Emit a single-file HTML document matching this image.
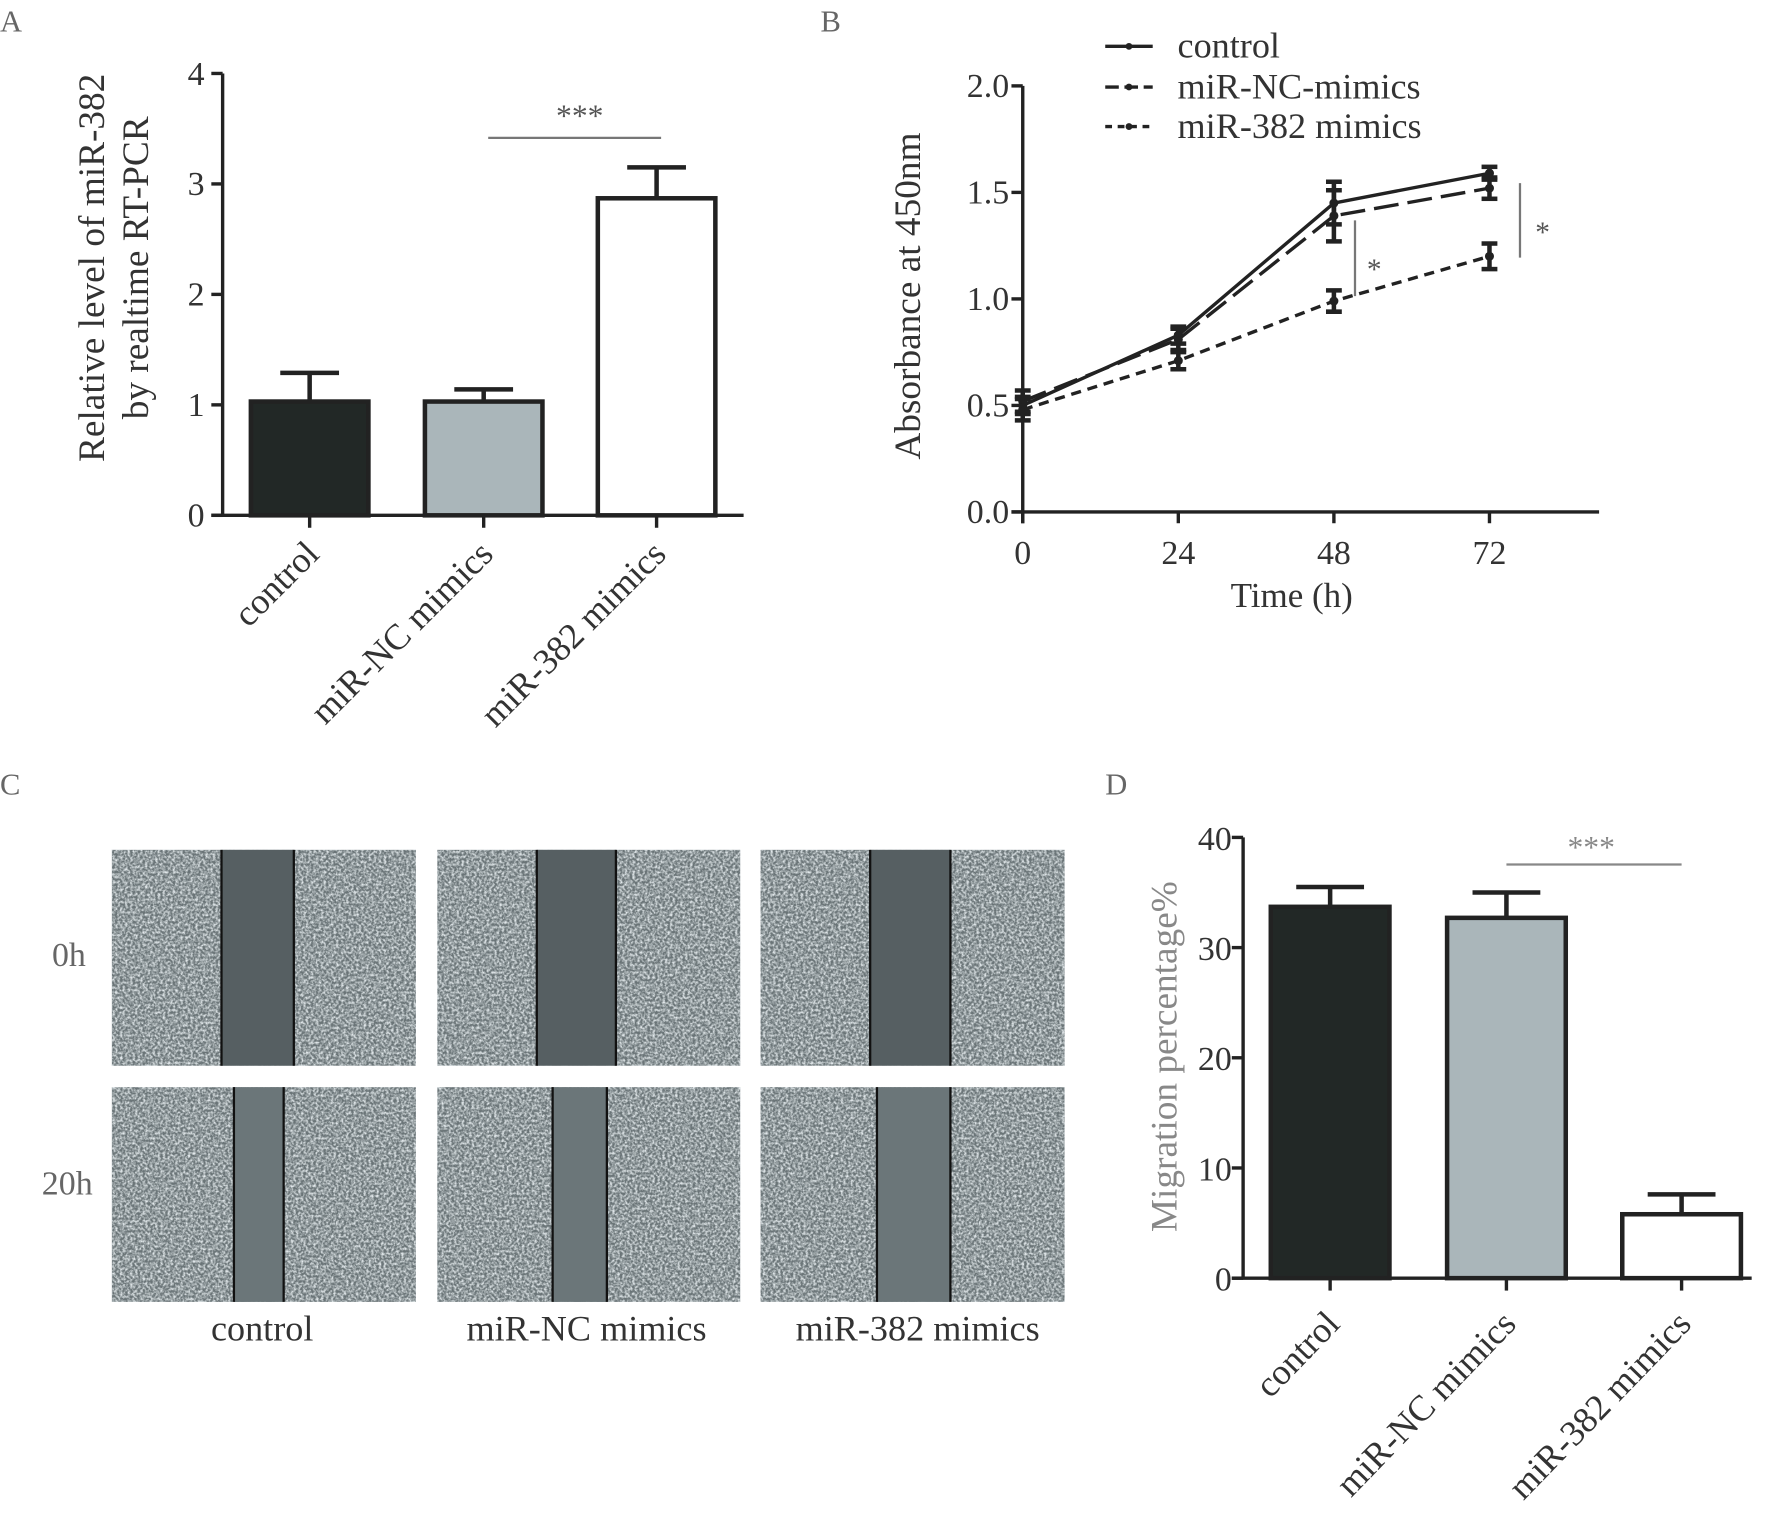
<!DOCTYPE html>
<html><head><meta charset="utf-8"><style>
html,body{margin:0;padding:0;background:#fff}
svg{display:block;font-family:"Liberation Serif",serif}
</style></head><body>
<svg id="fig" width="1772" height="1520" viewBox="0 0 1568 1345" preserveAspectRatio="none" xmlns="http://www.w3.org/2000/svg">
<defs>
<filter id="noise" x="0" y="0" width="100%" height="100%">
<feTurbulence type="fractalNoise" baseFrequency="0.45" numOctaves="3" seed="3" result="t"/>
<feColorMatrix type="matrix" values="0 0 0 0 0.75  0 0 0 0 0.8  0 0 0 0 0.82  0 0 0 2.2 -0.75"/>
</filter>
</defs>
<g id="root"></g>
</svg>
<script>
// Panel A data
const aCats = ["control","miR-NC mimics","miR-382 mimics"];
const aVals = [1.03, 1.03, 2.87];
const aErr = [0.26, 0.11, 0.28];
const aTicks = [0,1,2,3,4];
// Panel B data
const bTimes = [0,24,48,72];
const bTickLabels = ["0","24","48","72"];
const bYTicks = ["0.0","0.5","1.0","1.5","2.0"];
const bSeriesNames = ["control","miR-NC-mimics","miR-382 mimics"];
const bControl = [0.50, 0.83, 1.45, 1.59];
const bNC = [0.52, 0.81, 1.39, 1.52];
const b382 = [0.48, 0.71, 0.99, 1.20];
const bControlErr = [0.04, 0.04, 0.10, 0.03];
const bNCErr = [0.05, 0.05, 0.12, 0.05];
const b382Err = [0.05, 0.04, 0.05, 0.06];
// Panel D data
const dCats = ["control","miR-NC mimics","miR-382 mimics"];
const dVals = [33.7, 32.7, 5.8];
const dErr = [1.8, 2.3, 1.8];
const dTicks = [0,10,20,30,40];

const NS="http://www.w3.org/2000/svg";
const root=document.getElementById('root');
function mk(tag,attrs,parent,text){const e=document.createElementNS(NS,tag);for(const k in attrs)e.setAttribute(k,attrs[k]);if(text!==undefined)e.textContent=text;(parent||root).appendChild(e);return e;}
const fills=["#222826","#aab6ba","#ffffff"];

// panel letters
[["A",10,28],["B",736,28],["C",10,703],["D",988,703]].forEach(l=>{
 const t=mk('text',{x:l[1]-10,y:l[2],'font-size':27,fill:'#666'},root,l[0]);
 
 
});

// ---------- Panel A ----------
(function(){
 const g=mk('g',{});
 
 
 const x0=197,x1=658,yTop=65,yBot=456,ymax=4;
 const y=v=>yBot-(v/ymax)*(yBot-yTop);
 const cx=[274,428,581], bw=104;
 aVals.forEach((v,i)=>{
  const eb=mk('g',{},g);
  
  
  mk('line',{x1:cx[i],x2:cx[i],y1:y(v),y2:y(v+aErr[i]),stroke:'#222',  'stroke-width':4},eb);
  mk('line',{x1:cx[i]-26,x2:cx[i]+26,y1:y(v+aErr[i]),y2:y(v+aErr[i]),stroke:'#222','stroke-width':4},eb);
  const r=mk('rect',{x:cx[i]-bw/2,y:y(v),width:bw,height:yBot-y(v),fill:fills[i],stroke:'#222','stroke-width':4},g);
  
  
  mk('line',{x1:cx[i],x2:cx[i],y1:yBot,y2:yBot+11,stroke:'#222','stroke-width':3},g);
  const t=mk('text',{x:0,y:0,'font-size':32,fill:'#333','text-anchor':'end',transform:`translate(${cx[i]+10},${yBot+36}) rotate(-45)`},g,aCats[i]);
  
  
 });
 mk('line',{x1:x0,x2:x0,y1:yTop,y2:yBot+1,stroke:'#222','stroke-width':3},g);
 mk('line',{x1:x0-10,x2:x1,y1:yBot,y2:yBot,stroke:'#222','stroke-width':3},g);
 aTicks.forEach(v=>{
  mk('line',{x1:x0-10,x2:x0,y1:y(v),y2:y(v),stroke:'#222','stroke-width':3},g);
  const t=mk('text',{x:x0-16,y:y(v)+10,'font-size':30,fill:'#333','text-anchor':'end'},g,String(v));
  
  
 });
 const yt=mk('text',{'font-size':33,fill:'#333','text-anchor':'middle',transform:'translate(92,237) rotate(-90)'},g,'Relative level of miR-382');
 
 
 const yt2=mk('text',{'font-size':33,fill:'#333','text-anchor':'middle',transform:'translate(131,237) rotate(-90)'},g,'by realtime RT-PCR');
 
 
 mk('line',{x1:432,x2:585,y1:122,y2:122,stroke:'#777','stroke-width':2},g);
 const s=mk('text',{x:513,y:112,'font-size':28,fill:'#555','text-anchor':'middle'},g,'***');
 
 
})();

// ---------- Panel B ----------
(function(){
 const g=mk('g',{});
 
 
 const x0=905,x1=1415,yTop=76,yBot=453;
 const x=t=>x0+t*(1318-905)/72;
 const y=v=>yBot-(v/2)*(yBot-yTop);
 const series=[bControl,bNC,b382], errs=[bControlErr,bNCErr,b382Err];
 const dashes=['none','22 8','9 6'];
 series.forEach((s,si)=>{
  const sg=mk('g',{},g);
  
  
  mk('polyline',{points:s.map((v,i)=>x(bTimes[i])+','+y(v)).join(' '),fill:'none',stroke:'#222','stroke-width':3,'stroke-dasharray':dashes[si]},sg);
  s.forEach((v,i)=>{
   const px=x(bTimes[i]),e=errs[si][i];
   mk('line',{x1:px,x2:px,y1:y(v-e),y2:y(v+e),stroke:'#222','stroke-width':4},sg);
   mk('line',{x1:px-7,x2:px+7,y1:y(v-e),y2:y(v-e),stroke:'#222','stroke-width':4},sg);
   mk('line',{x1:px-7,x2:px+7,y1:y(v+e),y2:y(v+e),stroke:'#222','stroke-width':4},sg);
   mk('circle',{cx:px,cy:y(v),r:4,fill:'#222'},sg);
  });
 });
 mk('line',{x1:x0,x2:x0,y1:yTop,y2:yBot+10,stroke:'#222','stroke-width':3},g);
 mk('line',{x1:x0-10,x2:x1,y1:yBot,y2:yBot,stroke:'#222','stroke-width':3},g);
 bYTicks.forEach((l,i)=>{
  const v=parseFloat(l);
  mk('line',{x1:x0-10,x2:x0,y1:y(v),y2:y(v),stroke:'#222','stroke-width':3},g);
  const t=mk('text',{x:x0-12,y:y(v)+10,'font-size':30,fill:'#333','text-anchor':'end'},g,l);
  
  
 });
 bTimes.forEach((tv,i)=>{
  mk('line',{x1:x(tv),x2:x(tv),y1:yBot,y2:yBot+10,stroke:'#222','stroke-width':3},g);
  const t=mk('text',{x:x(tv),y:yBot+46,'font-size':30,fill:'#333','text-anchor':'middle'},g,bTickLabels[i]);
  
  
 });
 const xt=mk('text',{x:1143,y:537,'font-size':31,fill:'#333','text-anchor':'middle'},g,'Time (h)');
 
 
 const yt=mk('text',{'font-size':33,fill:'#333','text-anchor':'middle',transform:'translate(814,262) rotate(-90)'},g,'Absorbance at 450nm');
 
 
 const lg=mk('g',{},g);
 
 
 [41,77,112].forEach((ly,i)=>{
  const le=mk('g',{},lg);
  
  
  mk('line',{x1:978,x2:1020,y1:ly,y2:ly,stroke:'#222','stroke-width':3,'stroke-dasharray':i==0?'none':(i==1?'12 5':'6 5')},le);
  mk('circle',{cx:999,cy:ly,r:3,fill:'#222'},le);
  mk('text',{x:1042,y:ly+10,'font-size':32,fill:'#333'},le,bSeriesNames[i]);
 });
 mk('line',{x1:1199,x2:1199,y1:195,y2:262,stroke:'#777','stroke-width':2},g);
 mk('text',{x:1216,y:247,'font-size':26,fill:'#555','text-anchor':'middle'},g,'*');
 mk('line',{x1:1345,x2:1345,y1:162,y2:228,stroke:'#777','stroke-width':2},g);
 mk('text',{x:1365,y:214,'font-size':26,fill:'#555','text-anchor':'middle'},g,'*');
})();

// ---------- Panel C ----------
(function(){
 const g=mk('g',{});
 
 
 const cols=[[99,368],[387,655],[673,942]], rows=[[752,943],[962,1152]];
 const gaps=[[[196,260],[475,545],[770,841]],[[207,251],[489,537],[776,841]]];
 const names=["control","miR-NC mimics","miR-382 mimics"];
 rows.forEach((r,ri)=>cols.forEach((c,ci)=>{
  const ig=mk('g',{},g);
  
  
  mk('rect',{x:c[0],y:r[0],width:c[1]-c[0],height:r[1]-r[0],fill:'#6a7477'},ig);
  mk('rect',{x:c[0],y:r[0],width:c[1]-c[0],height:r[1]-r[0],fill:'#fff',filter:'url(#noise)'},ig);
  const gp=gaps[ri][ci];
  mk('rect',{x:gp[0],y:r[0],width:gp[1]-gp[0],height:r[1]-r[0],fill:ri?'#6b7679':'#565f62'},ig);
  mk('line',{x1:gp[0],x2:gp[0],y1:r[0],y2:r[1],stroke:'#111','stroke-width':2},ig);
  mk('line',{x1:gp[1],x2:gp[1],y1:r[0],y2:r[1],stroke:'#111','stroke-width':2},ig);
 }));
 const t0=mk('text',{x:76,y:855,'font-size':30,fill:'#666','text-anchor':'end'},g,'0h');
 
 
 const t1=mk('text',{x:82,y:1057,'font-size':30,fill:'#666','text-anchor':'end'},g,'20h');
 
 
 names.forEach((n,i)=>{
  const t=mk('text',{x:[232,519,812][i],y:1186,'font-size':32,fill:'#333','text-anchor':'middle'},g,n);
  
  
 });
})();

// ---------- Panel D ----------
(function(){
 const g=mk('g',{});
 
 
 const x0=1100,x1=1550,yTop=741,yBot=1131,ymax=40;
 const y=v=>yBot-(v/ymax)*(yBot-yTop);
 const cx=[1177,1333,1488], bw=105;
 dVals.forEach((v,i)=>{
  const eb=mk('g',{},g);
  
  
  mk('line',{x1:cx[i],x2:cx[i],y1:y(v),y2:y(v+dErr[i]),stroke:'#222','stroke-width':4},eb);
  mk('line',{x1:cx[i]-30,x2:cx[i]+30,y1:y(v+dErr[i]),y2:y(v+dErr[i]),stroke:'#222','stroke-width':4},eb);
  const r=mk('rect',{x:cx[i]-bw/2,y:y(v),width:bw,height:yBot-y(v),fill:fills[i],stroke:'#222','stroke-width':4},g);
  
  
  mk('line',{x1:cx[i],x2:cx[i],y1:yBot,y2:yBot+11,stroke:'#222','stroke-width':3},g);
  const t=mk('text',{'font-size':32,fill:'#333','text-anchor':'end',transform:`translate(${cx[i]+10},${yBot+42}) rotate(-46)`},g,dCats[i]);
  
  
 });
 mk('line',{x1:x0,x2:x0,y1:yTop,y2:yBot+1,stroke:'#222','stroke-width':3},g);
 mk('line',{x1:x0-10,x2:x1,y1:yBot,y2:yBot,stroke:'#222','stroke-width':3},g);
 dTicks.forEach(v=>{
  mk('line',{x1:x0-10,x2:x0,y1:y(v),y2:y(v),stroke:'#222','stroke-width':3},g);
  const t=mk('text',{x:x0-10,y:y(v)+11,'font-size':30,fill:'#333','text-anchor':'end'},g,String(v));
  
  
 });
 const yt=mk('text',{'font-size':33,fill:'#888','text-anchor':'middle',transform:'translate(1041,935) rotate(-90)'},g,'Migration percentage%');
 
 
 mk('line',{x1:1333,x2:1488,y1:765,y2:765,stroke:'#888','stroke-width':2},g);
 const s=mk('text',{x:1408,y:759,'font-size':28,fill:'#888','text-anchor':'middle'},g,'***');
 
 
})();
</script>
</body></html>
